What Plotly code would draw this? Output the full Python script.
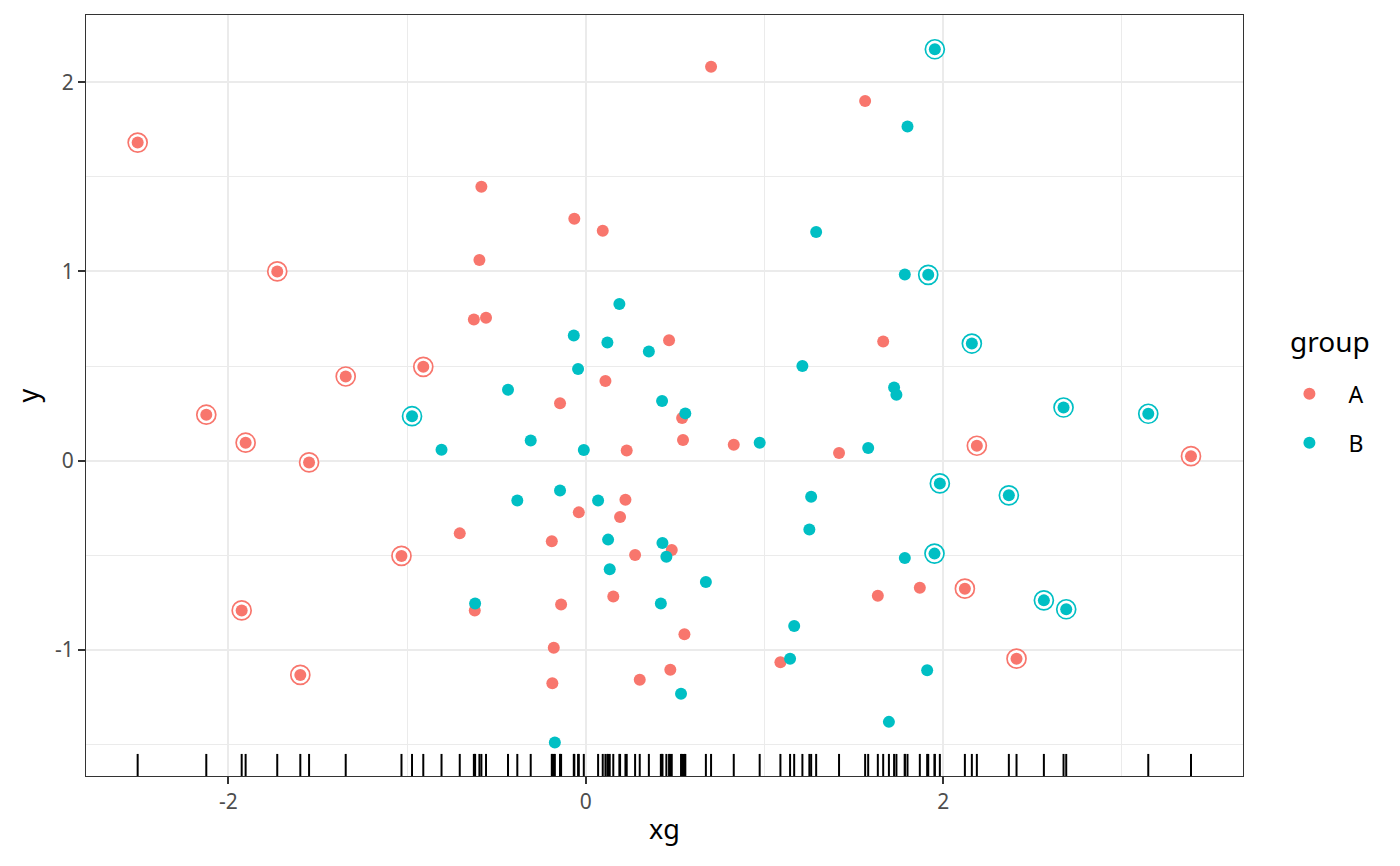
import plotly.graph_objects as go

# ---- data ----
a_x = [-2.507, -1.726, -2.123, -1.903, -1.343, -0.909, -1.548, -1.031, -1.925, -1.597,
       0.701, 1.563, -0.584, -0.064, 0.095, -0.595, -0.626, -0.558, 0.466, 0.110,
       -0.144, 0.539, 0.544, 0.229, 0.828, 1.417, 1.664, -0.705, -0.039, 0.222,
       0.192, -0.190, 0.276, 0.481, -0.621, -0.138, 0.154, 0.552, -0.179, -0.187,
       0.302, 0.473, 1.089, 1.634, 1.869, 2.121, 2.188, 2.410, 3.386]
a_y = [1.681, 1.000, 0.243, 0.095, 0.445, 0.496, -0.009, -0.503, -0.791, -1.132,
       2.081, 1.900, 1.447, 1.278, 1.215, 1.060, 0.746, 0.755, 0.637, 0.421,
       0.303, 0.226, 0.109, 0.054, 0.084, 0.041, 0.630, -0.384, -0.273, -0.206,
       -0.297, -0.426, -0.498, -0.472, -0.792, -0.760, -0.717, -0.917, -0.988, -1.176,
       -1.157, -1.105, -1.065, -0.713, -0.671, -0.676, 0.079, -1.046, 0.024]
a_flag = [1, 1, 1, 1, 1, 1, 1, 1, 1, 1,
          0, 0, 0, 0, 0, 0, 0, 0, 0, 0,
          0, 0, 0, 0, 0, 0, 0, 0, 0, 0,
          0, 0, 0, 0, 0, 0, 0, 0, 0, 0,
          0, 0, 0, 0, 0, 1, 1, 1, 1]

b_x = [1.953, 1.800, 1.289, 1.916, 1.785, 2.160, 1.212, 1.725, 1.738, 2.673,
       3.147, 1.580, 1.981, 2.367, 1.261, 1.251, 1.951, 1.785, 2.563, 2.688,
       1.166, 1.143, 1.910, 1.696, 0.188, -0.067, 0.121, 0.353, -0.043, -0.435,
       0.427, 0.557, -0.972, -0.308, -0.807, -0.011, 0.973, -0.383, -0.144, 0.069,
       0.125, 0.429, 0.451, 0.134, 0.672, -0.619, 0.420, 0.533, -0.173]
b_y = [2.174, 1.766, 1.208, 0.982, 0.984, 0.619, 0.500, 0.387, 0.349, 0.281,
       0.248, 0.067, -0.120, -0.183, -0.190, -0.364, -0.491, -0.514, -0.738, -0.785,
       -0.873, -1.047, -1.107, -1.380, 0.828, 0.662, 0.625, 0.577, 0.484, 0.375,
       0.315, 0.250, 0.235, 0.107, 0.058, 0.057, 0.095, -0.210, -0.157, -0.210,
       -0.417, -0.435, -0.507, -0.574, -0.641, -0.755, -0.755, -1.232, -1.489]
b_flag = [1, 0, 0, 1, 0, 1, 0, 0, 0, 1,
          1, 0, 1, 1, 0, 0, 1, 0, 1, 1,
          0, 0, 0, 0, 0, 0, 0, 0, 0, 0,
          0, 0, 1, 0, 0, 0, 0, 0, 0, 0,
          0, 0, 0, 0, 0, 0, 0, 0, 0]

groups = ["A", "B"]
group_colors = ["#F8766D", "#00BFC4"]
legend_title = "group"
x_title = "xg"
y_title = "y"
x_tick_vals = [-2, 0, 2]
x_tick_labels = ["-2", "0", "2"]
x_minor_vals = [-1, 1, 3]
y_tick_vals = [-1, 0, 1, 2]
y_tick_labels = ["-1", "0", "1", "2"]
y_minor_vals = [-1.5, -0.5, 0.5, 1.5]

FONT = "Noto Sans"

fig = go.Figure()

series = [(a_x, a_y, a_flag), (b_x, b_y, b_flag)]

# rings (drawn beneath the dots)
for (xs, ys, fl), name, col in zip(series, groups, group_colors):
    rx = [x for x, f in zip(xs, fl) if f]
    ry = [y for y, f in zip(ys, fl) if f]
    fig.add_trace(go.Scatter(
        x=rx, y=ry, mode="markers", showlegend=False, hoverinfo="skip",
        marker=dict(symbol="circle", size=19, color="white",
                    line=dict(color=col, width=1.7)),
    ))

# dots
for (xs, ys, fl), name, col in zip(series, groups, group_colors):
    fig.add_trace(go.Scatter(
        x=xs, y=ys, mode="markers", name=name, legendgroup=name,
        marker=dict(symbol="circle", size=12, color=col, line=dict(width=0)),
    ))

# rug
all_x = a_x + b_x
shapes = [dict(type="line", xref="x", yref="paper", x0=v, x1=v, y0=0, y1=0.029,
               line=dict(color="black", width=2), layer="above")
          for v in all_x]

fig.update_layout(
    width=1400, height=866,
    margin=dict(l=78, r=165, t=7, b=98),
    paper_bgcolor="white", plot_bgcolor="white",
    font=dict(family=FONT, color="black"),
    shapes=shapes,
    showlegend=True,
    legend=dict(
        font=dict(size=23, family=FONT, color="black"),
        x=1.0237, xanchor="left", y=0.47, yanchor="middle",
        itemwidth=68, traceorder="grouped", tracegroupgap=16,
        bgcolor="rgba(0,0,0,0)", borderwidth=0,
    ),
    annotations=[dict(
        text=legend_title, xref="paper", yref="paper", x=1.0389, y=0.572,
        xanchor="left", yanchor="middle", showarrow=False,
        font=dict(size=28, family=FONT, color="black"),
    )],
    xaxis=dict(
        range=[-2.796, 3.677], tickmode="array", tickvals=x_tick_vals, ticktext=x_tick_labels,
        showgrid=True, gridcolor="#EBEBEB", gridwidth=2, zeroline=False,
        minor=dict(tickmode="array", tickvals=x_minor_vals, showgrid=True,
                   gridcolor="#EBEBEB", gridwidth=1, ticks=""),
        showline=True, linecolor="#333333", linewidth=1, mirror=True,
        ticks="outside", ticklen=7, tickwidth=2, tickcolor="#333333",
        tickfont=dict(size=21, family=FONT, color="#4D4D4D"),
        title=dict(text=x_title, font=dict(size=27, family=FONT, color="black"), standoff=5),
    ),
    yaxis=dict(
        range=[-1.666, 2.355], tickmode="array", tickvals=y_tick_vals, ticktext=y_tick_labels,
        showgrid=True, gridcolor="#EBEBEB", gridwidth=2, zeroline=False,
        minor=dict(tickmode="array", tickvals=y_minor_vals, showgrid=True,
                   gridcolor="#EBEBEB", gridwidth=1, ticks=""),
        showline=True, linecolor="#333333", linewidth=1, mirror=True,
        ticks="outside", ticklen=7, tickwidth=2, tickcolor="#333333",
        tickfont=dict(size=21, family=FONT, color="#4D4D4D"),
        title=dict(text=y_title, font=dict(size=27, family=FONT, color="black"), standoff=8),
    ),
)

fig.write_html("out.html")
